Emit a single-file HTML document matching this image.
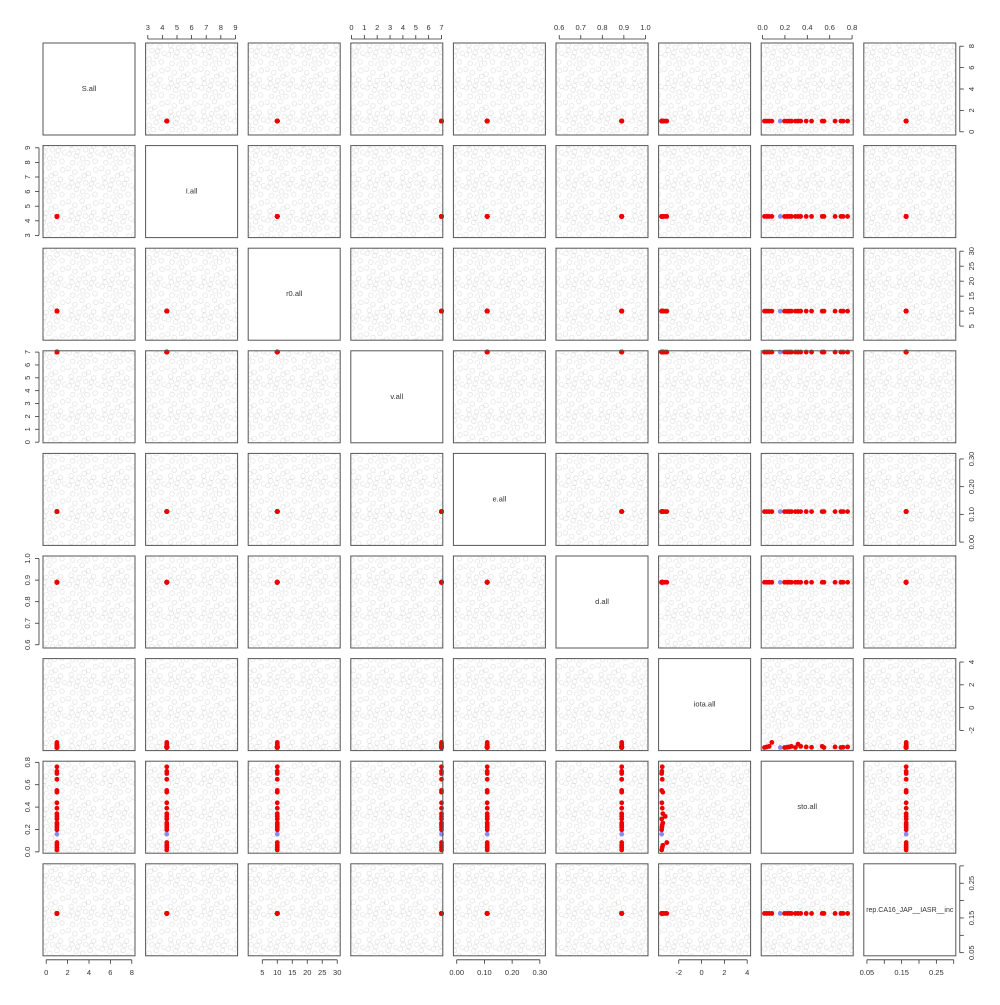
<!DOCTYPE html>
<html><head><meta charset="utf-8"><style>
html,body{margin:0;padding:0;background:#fff}
svg text{font-family:"Liberation Sans",sans-serif;fill:#333}
</style></head><body>
<svg id="chart" width="1000" height="1000" xmlns="http://www.w3.org/2000/svg">
<defs>
<pattern id="cloud" width="46" height="46" patternUnits="userSpaceOnUse" patternTransform="scale(0.72)">
<g fill="none" stroke="#999" stroke-opacity="0.35" stroke-width="0.8">
<circle cx="3" cy="4" r="3.3"/><circle cx="12" cy="9" r="3.3"/><circle cx="22" cy="3" r="3.3"/><circle cx="31" cy="11" r="3.3"/><circle cx="41" cy="6" r="3.3"/>
<circle cx="7" cy="17" r="3.3"/><circle cx="18" cy="20" r="3.3"/><circle cx="27" cy="24" r="3.3"/><circle cx="38" cy="19" r="3.3"/><circle cx="44" cy="28" r="3.3"/>
<circle cx="4" cy="30" r="3.3"/><circle cx="14" cy="33" r="3.3"/><circle cx="23" cy="36" r="3.3"/><circle cx="33" cy="32" r="3.3"/><circle cx="40" cy="40" r="3.3"/>
<circle cx="9" cy="42" r="3.3"/><circle cx="19" cy="44" r="3.3"/><circle cx="29" cy="42" r="3.3"/><circle cx="16" cy="27" r="3.3"/><circle cx="35" cy="25" r="3.3"/>
<circle cx="25" cy="14" r="3.3"/><circle cx="8" cy="24" r="3.3"/>
</g></pattern>
</defs>
</svg>
<script>
const names=["S.all","I.all","r0.all","v.all","e.all","d.all","iota.all","sto.all","rep.CA16_JAP__IASR__inc"];
const lo=[-0.3,2.85,0.3,-0.05,-0.012,0.585,-3.77,-0.012,0.041];
const hi=[8.3,9.15,31,7.1,0.32,1.012,4.3,0.81,0.306];
const ticks=[[0,2,4,6,8],[3,4,5,6,7,8,9],[5,10,15,20,25,30],[0,1,2,3,4,5,6,7],[0,0.1,0.2,0.3],[0.6,0.7,0.8,0.9,1.0],[-2,0,2,4],[0,0.2,0.4,0.6,0.8],[0.05,0.1,0.15,0.2,0.25,0.3]];
const tickLabels=[["0","2","4","6","8"],["3","4","5","6","7","8","9"],["5","10","15","20","25","30"],["0","1","2","3","4","5","6","7"],["0.00","0.10","0.20","0.30"],["0.6","0.7","0.8","0.9","1.0"],["-2","0","2","4"],["0.0","0.2","0.4","0.6","0.8"],["0.05","","0.15","","0.25",""]];
const fixedVals=[1,4.3,10,7,0.11,0.89,null,null,0.163];
const stoVals=[0.017,0.038,0.059,0.083,0.158,0.197,0.22,0.24,0.258,0.294,0.317,0.341,0.39,0.438,0.533,0.549,0.648,0.7,0.72,0.76];
const iotaVals=[-3.5,-3.45,-3.4,-3.05,-3.5,-3.5,-3.48,-3.45,-3.4,-3.5,-3.2,-3.4,-3.45,-3.48,-3.4,-3.5,-3.45,-3.5,-3.48,-3.45];
const blueIdx=4;
const svg=document.getElementById('chart');const NS="http://www.w3.org/2000/svg";
const P0=43,SZ=92,PITCH=102.6;
function mk(t,a,p){const e=document.createElementNS(NS,t);for(const k in a)e.setAttribute(k,a[k]);(p||svg).appendChild(e);return e;}
function px(j,v){return P0+j*PITCH+(v-lo[j])/(hi[j]-lo[j])*SZ;}
function py(i,v){return P0+i*PITCH+SZ-(v-lo[i])/(hi[i]-lo[i])*SZ;}
function val(k,s){if(k===6)return iotaVals[s];if(k===7)return stoVals[s];return fixedVals[k];}
for(let i=0;i<9;i++)for(let j=0;j<9;j++){
 const x0=P0+j*PITCH,y0=P0+i*PITCH;
 const g=mk('g',{});
 
 
 if(i===j){
  const t=mk('text',{x:x0+SZ/2,y:y0+SZ/2+2,'font-size':j===8?7:7.5,'text-anchor':'middle'},g);t.textContent=names[i];
 }else{
  mk('rect',{x:x0,y:y0,width:SZ,height:SZ,fill:'url(#cloud)'},g);
  const order=[blueIdx];for(let s=0;s<stoVals.length;s++)if(s!==blueIdx)order.push(s);
  for(const s of order){
   const c=mk('circle',{cx:px(j,val(j,s)),cy:py(i,val(i,s)),r:2.4,fill:s===blueIdx?'#8c8cf0':'#ee0000'},g);
   
   
  }
 }
 mk('rect',{x:x0,y:y0,width:SZ,height:SZ,fill:'none',stroke:'#555','stroke-width':1},g);
}
function axis(k,side){
 const g=mk('g',{stroke:'#333'});
 
 
 const tk=ticks[k];
 if(side==='top'||side==='bottom'){
  const yb=side==='top'?P0:P0+8*PITCH+SZ, d=side==='top'?-1:1;
  mk('line',{x1:px(k,tk[0]),x2:px(k,tk[tk.length-1]),y1:yb+d*4,y2:yb+d*4,'stroke-width':0.8},g);
  tk.forEach((v,n)=>{const x=px(k,v);mk('line',{x1:x,x2:x,y1:yb+d*4,y2:yb+d*8,'stroke-width':0.8},g);
   if(tickLabels[k][n]){const t=mk('text',{x:x,y:side==='top'?yb-13:yb+19,'font-size':7.5,'text-anchor':'middle',stroke:'none'},g);t.textContent=tickLabels[k][n];}});
 }else{
  const xb=side==='left'?P0:P0+8*PITCH+SZ, d=side==='left'?-1:1;
  mk('line',{y1:py(k,tk[0]),y2:py(k,tk[tk.length-1]),x1:xb+d*4,x2:xb+d*4,'stroke-width':0.8},g);
  tk.forEach((v,n)=>{const y=py(k,v);mk('line',{y1:y,y2:y,x1:xb+d*4,x2:xb+d*8,'stroke-width':0.8},g);
   if(tickLabels[k][n]){const tx=side==='left'?xb-13:xb+13;const t=mk('text',{x:tx,y:y,'font-size':7.5,'text-anchor':'middle',stroke:'none',transform:`rotate(-90 ${tx} ${y})`,dy:side==='left'?'0':'5'},g);t.textContent=tickLabels[k][n];}});
 }
}
[1,3,5,7].forEach(k=>axis(k,'top'));[0,2,4,6,8].forEach(k=>axis(k,'bottom'));
[1,3,5,7].forEach(k=>axis(k,'left'));[0,2,4,6,8].forEach(k=>axis(k,'right'));
</script>
</body></html>
